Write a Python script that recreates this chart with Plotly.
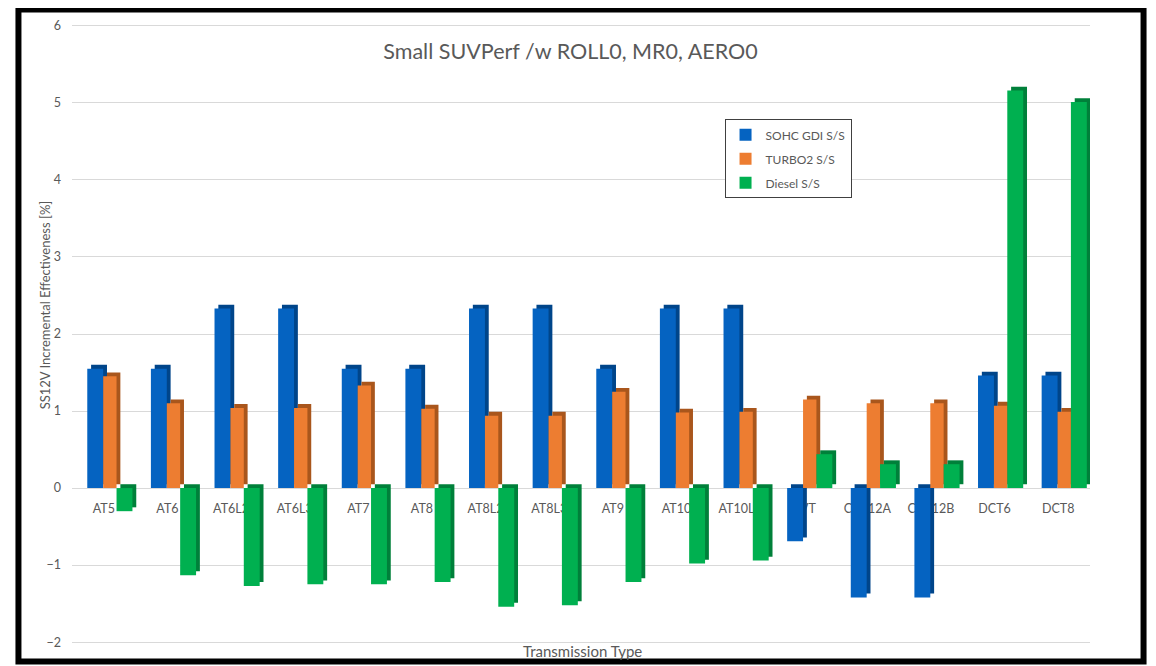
import plotly.graph_objects as go

CATEGORIES = ["AT5", "AT6", "AT6L2", "AT6L3", "AT7", "AT8", "AT8L2", "AT8L3",
              "AT9", "AT10", "AT10L2", "CVT", "CVT12A", "CVT12B", "DCT6", "DCT8"]
SOHC = [1.55, 1.55, 2.33, 2.33, 1.55, 1.55, 2.33, 2.33,
        1.55, 2.33, 2.33, -0.69, -1.42, -1.42, 1.46, 1.46]
TURBO = [1.45, 1.10, 1.04, 1.04, 1.33, 1.03, 0.94, 0.94,
         1.25, 0.98, 0.99, 1.15, 1.10, 1.10, 1.07, 0.99]
DIESEL = [-0.30, -1.13, -1.27, -1.25, -1.25, -1.22, -1.54, -1.52,
          -1.22, -0.98, -0.94, 0.44, 0.31, 0.31, 5.16, 5.01]
Y_TICKS = [-2, -1, 0, 1, 2, 3, 4, 5, 6]

TEXT = "#595959"
FONT = "Lato"

# name, values, face colour, side colour, offset, width
SERIES = [
    ("SOHC GDI S/S", SOHC, "#0563C1", "#00458A", -0.26, 0.25),
    ("TURBO2 S/S", TURBO, "#ED7D31", "#A9561C", -0.01, 0.21),
    ("Diesel S/S", DIESEL, "#00B050", "#00803A", 0.20, 0.25),
]
DX, DY = 0.06, 0.05  # fake 3d depth

fig = go.Figure()
for name, vals, face, side, off, w in SERIES:
    # darker copy shifted up/right gives the 3d side and top
    fig.add_trace(go.Bar(
        x=CATEGORIES, y=vals, base=DY, offset=off + DX, width=w,
        marker=dict(color=side, line=dict(width=0)),
        showlegend=False, legendgroup=name, hoverinfo="skip",
    ))
    fig.add_trace(go.Bar(
        x=CATEGORIES, y=vals, offset=off, width=w, name=name,
        marker=dict(color=face, line=dict(width=0)),
        legendgroup=name,
    ))

# page body has an 8px margin, so the figure is 8px smaller each way
fig.update_layout(
    width=1148, height=658,
    margin=dict(l=64, r=66, t=10, b=20),
    barmode="overlay",
    plot_bgcolor="white", paper_bgcolor="white",
    font=dict(family=FONT, color=TEXT, size=12),
    title=dict(text="Small SUVPerf /w ROLL0, MR0, AERO0",
               x=562.5 / 1148, xanchor="center", y=1 - 43 / 658, yanchor="middle",
               font=dict(size=21.5, color=TEXT, family=FONT)),
    legend=dict(x=0.641, y=0.844, xanchor="left", yanchor="top",
                bgcolor="white", bordercolor="#404040", borderwidth=1,
                font=dict(size=12, color=TEXT), itemwidth=30,
                tracegroupgap=5, traceorder="grouped"),
    showlegend=True,
)

fig.update_xaxes(
    type="category", range=[-0.5, 15.5],
    anchor="free", position=2.05 / 8.1,
    showgrid=False, showline=False, zeroline=False, ticks="",
    ticklabelstandoff=11, tickfont=dict(size=12.5, color=TEXT),
    layer="below traces",
)
fig.update_yaxes(
    range=[-2.05, 6.05], tickvals=Y_TICKS,
    showgrid=True, gridcolor="#D9D9D9", gridwidth=1,
    zeroline=False, showline=False, ticks="",
    ticklabelstandoff=10, tickfont=dict(size=12.5, color=TEXT),
)

fig.add_annotation(text="SS12V Incremental Effectiveness [%]", textangle=-90,
                   xref="paper", yref="paper", x=-0.0363, y=0.546,
                   showarrow=False, font=dict(size=13, color=TEXT))
fig.add_annotation(text="Transmission Type",
                   xref="paper", yref="paper", x=0.501, y=-0.008,
                   yanchor="middle", showarrow=False, font=dict(size=15, color=TEXT))

# black frame around the whole chart
fig.add_shape(type="rect", xref="paper", yref="paper",
              x0=-0.0526, x1=1.0526, y0=-0.0247, y1=1.0199,
              line=dict(color="black", width=6), fillcolor="rgba(0,0,0,0)")

fig.write_html("out.html")
